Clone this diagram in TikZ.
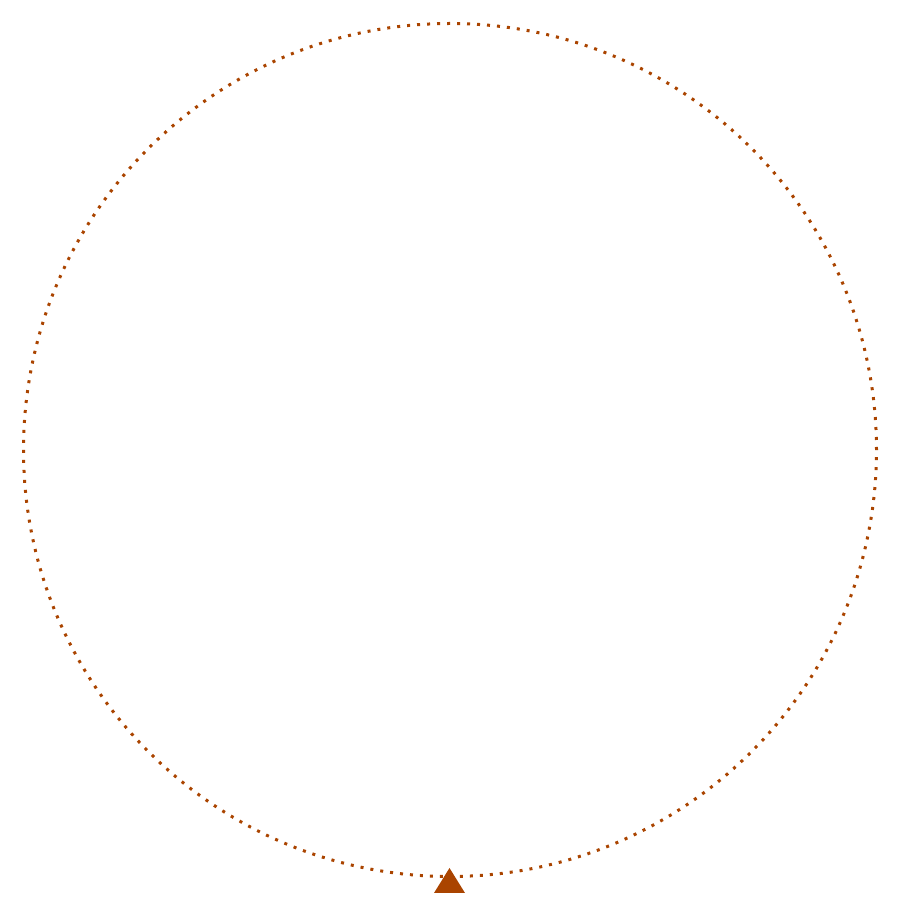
\documentclass[tikz,border=0pt]{standalone}
\usepackage{tikz}
\definecolor{rust}{RGB}{170,68,0}
\tikzset{ring/.style={draw=rust,line width=3pt,dash pattern=on 3pt off 7pt},
  marker/.style={fill=rust,draw=none}}
\begin{document}
\begin{tikzpicture}[x=1pt,y=1pt]
\useasboundingbox (0,0) rectangle (900,900);
\coordinate (c) at (450,450);
\draw[ring] (c) circle (426.5);
\fill[marker] (434,7) -- (465,7) -- (449.5,32) -- cycle;
\end{tikzpicture}
\end{document}
